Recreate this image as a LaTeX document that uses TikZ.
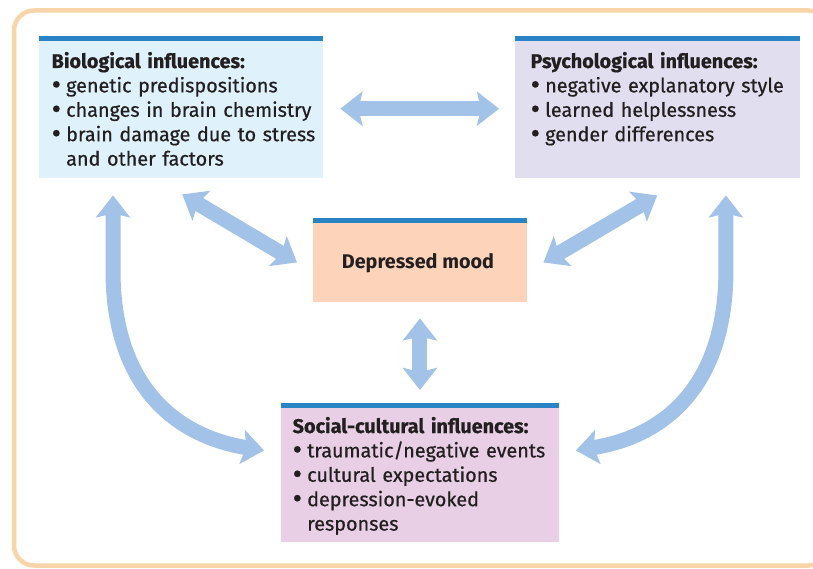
\documentclass[tikz,border=0pt]{standalone}
\usepackage{fontspec}
\setmainfont{Fira Sans}
\newfontfamily\panelfont{Fira Sans}[FakeBold=0.6]
\usepackage{tikz}
\usetikzlibrary{arrows.meta}
\definecolor{framecol}{HTML}{F7D5A8}
\definecolor{barblue}{HTML}{2A83C5}
\definecolor{arrowblue}{HTML}{A2C2E7}
\definecolor{biofill}{HTML}{DFF2FC}
\definecolor{psyfill}{HTML}{E1DEEF}
\definecolor{moodfill}{HTML}{FDD4B9}
\definecolor{socfill}{HTML}{E8CFE6}
\definecolor{ink}{HTML}{231F20}
\newcommand{\topbar}[1]{\draw[bar] (#1.north west) -- (#1.north east);}
\newcommand{\bul}{\makebox[14.5pt][l]{\raisebox{-1.8pt}{\scalebox{1.45}{\textbullet}}}}
\tikzset{
  panel/.style={anchor=north west, inner sep=0pt, draw=none},
  bar/.style={draw=barblue, line width=5pt},
  txt/.style={anchor=base west, inner sep=0pt, align=left, text width=290pt, text=ink,
    font=\panelfont\fontsize{19.8}{24.4}\selectfont},
  link/.style={draw=arrowblue, line width=15pt, {Stealth[length=22pt, width=34pt, inset=4pt]}-{Stealth[length=22pt, width=34pt, inset=4pt]}}
}

\begin{document}
\begin{tikzpicture}[x=1pt, y=-1pt]
    \useasboundingbox (0,0) rectangle (813,569);
    % frame
    \draw[framecol, line width=4.5pt, rounded corners=20pt] (14,10.5) rectangle (828,565.5);

    % panels
    \node[panel, fill=biofill, minimum width=284pt, minimum height=139pt] (bio) at (39,39) {};
    \node[panel, fill=psyfill, minimum width=285pt, minimum height=139pt] (psych) at (515,39) {};
    \node[panel, fill=moodfill, minimum width=213.5pt, minimum height=80.5pt] (mood) at (313,221) {};
    \node[panel, fill=socfill, minimum width=277.5pt, minimum height=136.5pt] (social) at (281,405) {};
    \topbar{bio}
    \topbar{psych}
    \topbar{mood}
    \topbar{social}

    % panel texts
    \node[txt] (biotext) at (51.5,68) {\textbf{Biological influences:}\\
      \bul genetic predispositions\\
      \bul changes in brain chemistry\\
      \bul brain damage due to stress\\
      \phantom{\bul}and other factors};
    \node[txt] (psychtext) at (530.5,68) {\textbf{Psychological influences:}\\
      \bul negative explanatory style\\
      \bul learned helplessness\\
      \bul gender differences};
    \node[txt] (socialtext) at (292.5,433) {\textbf{Social-cultural influences:}\\
      \bul traumatic/negative events\\
      \bul cultural expectations\\
      \bul depression-evoked\\
      \phantom{\bul}responses};
    \node[text=ink, inner sep=0pt, font=\fontsize{19.8}{24.4}\selectfont\bfseries] (moodtext)
      at ([shift={(-2,1.5)}]mood.center) {Depressed mood};

    % arrows
    \draw[link] ([shift={(17,0)}]bio.east) -- ([shift={(-16,0)}]psych.west);
    \draw[link] ([shift={(1,16)}]bio.south) -- ([shift={(-16,1)}]mood.west);
    \draw[link] ([shift={(16.5,1)}]mood.east) -- ([shift={(-0.5,17)}]psych.south);
    \draw[link] ([shift={(0,16.5)}]mood.south) -- ([shift={(0,-15)}]social.north);
    \draw[link] ([shift={(74,17)}]bio.south west) -- ++(0,75)
      .. controls +(0,110) and +(-94,-15) .. ([shift={(-17,-23)}]social.west);
    \draw[link] ([shift={(-74.5,17)}]psych.south east) -- ++(0,75)
      .. controls +(0,110) and +(94,-15) .. ([shift={(17,-23)}]social.east);
\end{tikzpicture}
\end{document}
